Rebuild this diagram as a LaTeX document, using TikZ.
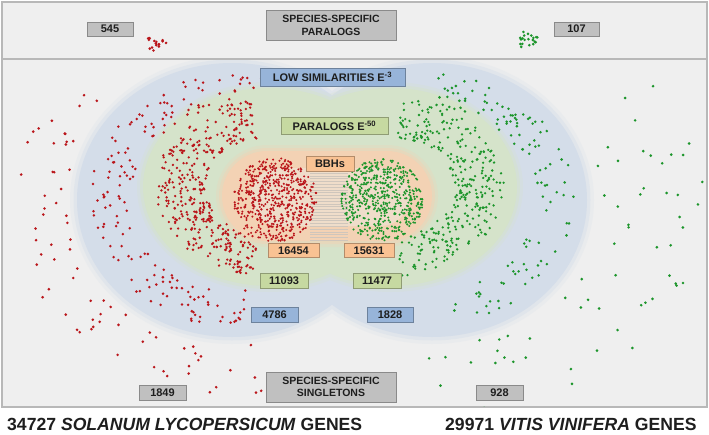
\documentclass[tikz,border=0pt]{standalone}
\usepackage{fontspec}
\setmainfont{Liberation Sans}
\definecolor{panelgrey}{HTML}{EFEFEF}
\definecolor{framegrey}{HTML}{B8B8B8}
\definecolor{lowblue}{HTML}{D4DDE9}
\definecolor{paragreen}{HTML}{D5E3CA}
\definecolor{bbhorange}{HTML}{F3D2B4}
\definecolor{bbhlight}{HTML}{EFDDCA}
\definecolor{bbhline}{HTML}{CFC6BC}
\definecolor{tomred}{HTML}{BA161B}
\definecolor{vitgreen}{HTML}{1C952B}
\definecolor{boxgrey}{HTML}{C0C0C0}
\definecolor{boxblue}{HTML}{97B4D9}
\definecolor{boxgreen}{HTML}{C6D9A1}
\definecolor{boxorange}{HTML}{F9C293}
\definecolor{inkgrey}{HTML}{1E1E1E}
\tikzset{
  lbl/.style={draw=#1!72!black, fill=#1, line width=0.8pt, inner sep=0pt,
    text=inkgrey, font=\fontsize{11}{12}\selectfont\bfseries},
  numbox/.style={lbl=#1, minimum height=15, minimum width=47},
  spbox/.style={lbl=boxgrey, minimum width=130, minimum height=30, align=center,
    font=\fontsize{10.5}{12.5}\selectfont\bfseries},
  title/.style={anchor=base west, inner sep=0pt, text=inkgrey, text depth=0pt,
    font=\fontsize{17.6}{20}\selectfont\bfseries},
  tomdot/.style={fill=tomred},
  vitdot/.style={fill=vitgreen}
}
\begin{document}
\begin{tikzpicture}[x=1pt,y=-1pt]
  \useasboundingbox (0,0) rectangle (709,434);
  % frames
  \draw[framegrey, fill=panelgrey, line width=1.2] (2,2) rectangle (707,59);
  \draw[framegrey, fill=panelgrey, line width=1.2] (2,59) rectangle (707,407);
  \begin{scope}
    \clip (3,60) rectangle (706,406);
    % soft low similarity / paralog / BBH regions
    \foreach \g/\op in {7/0.22,3.5/0.4,0/1}{
      \fill[lowblue, opacity=\op] (232,200) ellipse ({155+\g} and {137+\g})
        (432,200) ellipse ({155+\g} and {137+\g});
    }
    \foreach \g/\op in {6/0.25,3/0.45,0/1}{
      \fill[paragreen, opacity=\op] (269,187) ellipse ({126+\g} and {99+\g})
        (391,187) ellipse ({126+\g} and {99+\g});
    }
    \foreach \g/\op in {6/0.25,3/0.45,0/1}{
      \fill[bbhorange, opacity=\op, rounded corners={45+\g}]
        ({222-\g},{151-\g}) rectangle ({432+\g},{241+\g});
    }
    \fill[bbhlight, rounded corners=30] (250,168) rectangle (410,226);
    \foreach \k in {0,...,24}
      \draw[bbhline, line width=0.5] (310,{173+2.8*\k}) -- (348,{173+2.8*\k});
    \pgfmathsetseed{16454}
    % BBH clusters
    \foreach \i in {1,...,560}{
      \pgfmathsetmacro\rr{42*sqrt(rnd)}
      \pgfmathsetmacro\aa{360*rnd}
      \fill[tomdot] ({275+\rr*cos(\aa)},{200+\rr*sin(\aa)}) circle (1.15);
    }
    \foreach \i in {1,...,540}{
      \pgfmathsetmacro\rr{41*sqrt(rnd)}
      \pgfmathsetmacro\aa{360*rnd}
      \fill[vitdot] ({382+\rr*cos(\aa)},{200+\rr*sin(\aa)}) circle (1.15);
    }
    % paralogs E-50
    \foreach \i in {1,...,380}{
      \pgfmathsetmacro\ff{0.5+0.4*rnd}
      \pgfmathsetmacro\aa{100+162*rnd}
      \fill[tomdot] ({269+126*\ff*cos(\aa)},{187-99*\ff*sin(\aa)}) circle (1.3);
    }
    \foreach \i in {1,...,320}{
      \pgfmathsetmacro\ff{0.5+0.4*rnd}
      \pgfmathsetmacro\aa{-85+170*rnd}
      \fill[vitdot] ({391+126*\ff*cos(\aa)},{187-99*\ff*sin(\aa)}) circle (1.3);
    }
    % low similarities
    \foreach \i in {1,...,165}{
      \pgfmathsetmacro\ff{0.66+0.26*rnd}
      \pgfmathsetmacro\aa{78+200*rnd}
      \fill[tomdot] ({232+155*\ff*cos(\aa)},{200-137*\ff*sin(\aa)}) circle (1.4);
    }
    \foreach \i in {1,...,120}{
      \pgfmathsetmacro\ff{0.66+0.26*rnd}
      \pgfmathsetmacro\aa{-85+173*rnd}
      \fill[vitdot] ({432+155*\ff*cos(\aa)},{200-137*\ff*sin(\aa)}) circle (1.4);
    }
    % singletons
    \foreach \i in {1,...,70}{
      \pgfmathsetmacro\ff{1.06+0.36*rnd}
      \pgfmathsetmacro\aa{140+138*rnd}
      \fill[tomdot] ({232+155*\ff*cos(\aa)},{200-137*\ff*sin(\aa)}) circle (1.45);
    }
    \foreach \i in {1,...,65}{
      \pgfmathsetmacro\ff{1.06+0.69*rnd}
      \pgfmathsetmacro\aa{-100+133*rnd}
      \fill[vitdot] ({432+155*\ff*cos(\aa)},{200-137*\ff*sin(\aa)}) circle (1.45);
    }
  \end{scope}
  % species-specific paralogs
  \foreach \i in {1,...,16}{
    \pgfmathsetmacro\rr{sqrt(rnd)}
    \pgfmathsetmacro\aa{360*rnd}
    \fill[tomdot] ({155+12*\rr*cos(\aa)},{43+8*\rr*sin(\aa)}) circle (1.45);
  }
  \foreach \i in {1,...,20}{
    \pgfmathsetmacro\rr{sqrt(rnd)}
    \pgfmathsetmacro\aa{360*rnd}
    \fill[vitdot] ({527+11*\rr*cos(\aa)},{40+10*\rr*sin(\aa)}) circle (1.45);
  }
  % labels
  \node[spbox] (paraspec) at (331,25.5) {SPECIES-SPECIFIC\\PARALOGS};
  \node[numbox=boxgrey, minimum height=14, minimum width=46] (n545) at (110,29) {545};
  \node[numbox=boxgrey, minimum height=14, minimum width=45] (n107) at (576.5,29) {107};
  \node[lbl=boxblue, minimum width=145, minimum height=18] (lowsim) at (332.5,77)
    {LOW SIMILARITIES E\textsuperscript{-3}};
  \node[lbl=boxgreen, minimum width=107, minimum height=17] (paralogs) at (334.5,125.5)
    {PARALOGS E\textsuperscript{-50}};
  \node[numbox=boxorange, minimum width=48] (bbh) at (330,163.5) {BBHs};
  \node[numbox=boxorange, minimum width=51, minimum height=14] (n16454) at (293.5,250.5) {16454};
  \node[numbox=boxorange, minimum width=50, minimum height=14] (n15631) at (369,250.5) {15631};
  \node[numbox=boxgreen, minimum width=48] (n11093) at (284,280.5) {11093};
  \node[numbox=boxgreen, minimum width=48] (n11477) at (377,280.5) {11477};
  \node[numbox=boxblue] (n4786) at (274.5,314.5) {4786};
  \node[numbox=boxblue, minimum width=46] (n1828) at (390,314.5) {1828};
  \node[spbox] (singletons) at (331,387) {SPECIES-SPECIFIC\\SINGLETONS};
  \node[numbox=boxgrey] (n1849) at (162.5,392.5) {1849};
  \node[numbox=boxgrey] (n928) at (499.5,392.5) {928};
  % genome titles
  \node[title] (tomtitle) at (7,430.5) {34727 \textit{SOLANUM LYCOPERSICUM} GENES};
  \node[title] (vittitle) at (445,430.5) {29971 \textit{VITIS VINIFERA} GENES};
\end{tikzpicture}
\end{document}
